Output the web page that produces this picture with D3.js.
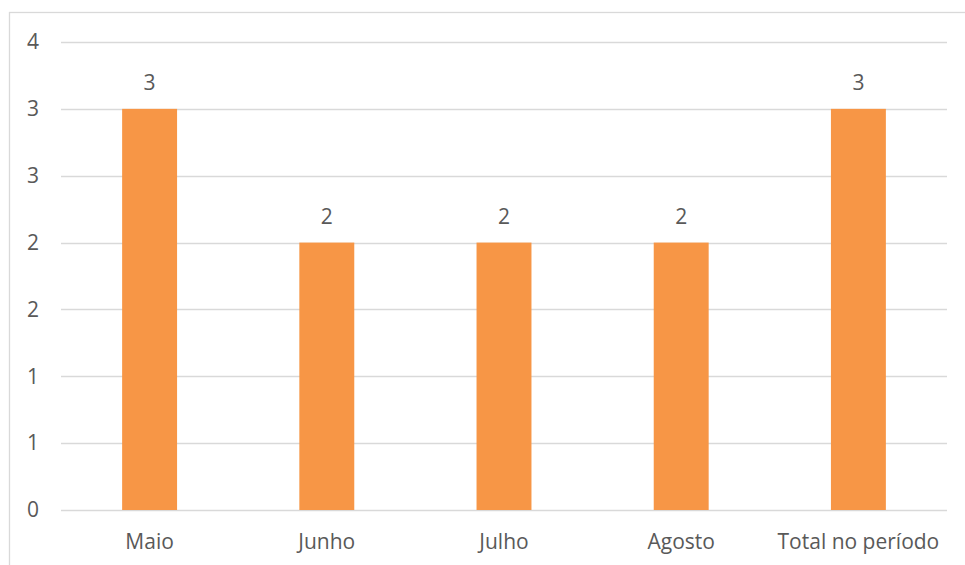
<!DOCTYPE html>
<html>
<head>
<meta charset="utf-8">
<script src="https://cdn.jsdelivr.net/npm/d3@7"></script>
<style>
  html, body { margin: 0; padding: 0; background: #fff; }
  svg { display: block; }
  text { font-family: "Open Sans", "Segoe UI", sans-serif; fill: #595959; }
</style>
</head>
<body>
<svg id="chart" width="965" height="565"></svg>
<script>
// Category labels and their values
const categories = ["Maio", "Junho", "Julho", "Agosto", "Total no período"];
const values = [3, 2, 2, 2, 3];
// Y axis ticks (labels shown rounded to whole numbers)
const yTicks = [0, 0.5, 1, 1.5, 2, 2.5, 3, 3.5];

const FONT = "'Open Sans', 'Segoe UI', sans-serif";
const FS = 21;

const svg = d3.select("#chart");
const W = 965, H = 565;
const plot = { left: 61, right: 947, top: 42, bottom: 510 };

// Outer chart frame
svg.append("rect")
  .attr("x", 9.5).attr("y", 12.5)
  .attr("width", W).attr("height", H)
  .attr("fill", "none").attr("stroke", "#D9D9D9").attr("stroke-width", 1.3);

const x = d3.scaleBand().domain(categories).range([plot.left, plot.right]).paddingInner(0).paddingOuter(0);
const y = d3.scaleLinear().domain([0, 3.5]).range([plot.bottom, plot.top]);

// Horizontal gridlines
svg.append("g").selectAll("line").data(yTicks).join("line")
  .attr("x1", plot.left).attr("x2", plot.right)
  .attr("y1", d => Math.round(y(d)) + 0.5).attr("y2", d => Math.round(y(d)) + 0.5)
  .attr("stroke", "#D9D9D9").attr("stroke-width", 1.3);

// Y axis labels
const yAxis = d3.axisLeft(y).tickValues(yTicks).tickFormat(d => String(Math.round(d + 1e-9))).tickSize(0).tickPadding(0);
const gy = svg.append("g").attr("transform", `translate(39,0)`).call(yAxis);
gy.select(".domain").remove();
gy.attr("font-size", null).attr("font-family", null);
gy.selectAll("text").attr("font-size", FS).attr("fill", "#595959").style("font-family", FONT);

// Bars
const barW = x.bandwidth() * 0.31;
svg.append("g").selectAll("rect").data(values).join("rect")
  .attr("x", (d, i) => x(categories[i]) + x.bandwidth() / 2 - barW / 2)
  .attr("y", d => y(d))
  .attr("width", barW)
  .attr("height", d => y(0) - y(d))
  .attr("fill", "#F79646");

// Value labels above bars
svg.append("g").selectAll("text").data(values).join("text")
  .attr("x", (d, i) => x(categories[i]) + x.bandwidth() / 2)
  .attr("y", d => y(d) - 19)
  .attr("text-anchor", "middle")
  .attr("font-size", FS)
  .style("font-family", FONT)
  .text(d => d);

// X axis labels
const xAxis = d3.axisBottom(x).tickSize(0).tickPadding(0);
const gx = svg.append("g").attr("transform", `translate(0,${plot.bottom + 24})`).call(xAxis);
gx.select(".domain").remove();
gx.attr("font-size", null).attr("font-family", null);
gx.selectAll("text").attr("font-size", FS).attr("fill", "#595959").style("font-family", FONT);
</script>
</body>
</html>
